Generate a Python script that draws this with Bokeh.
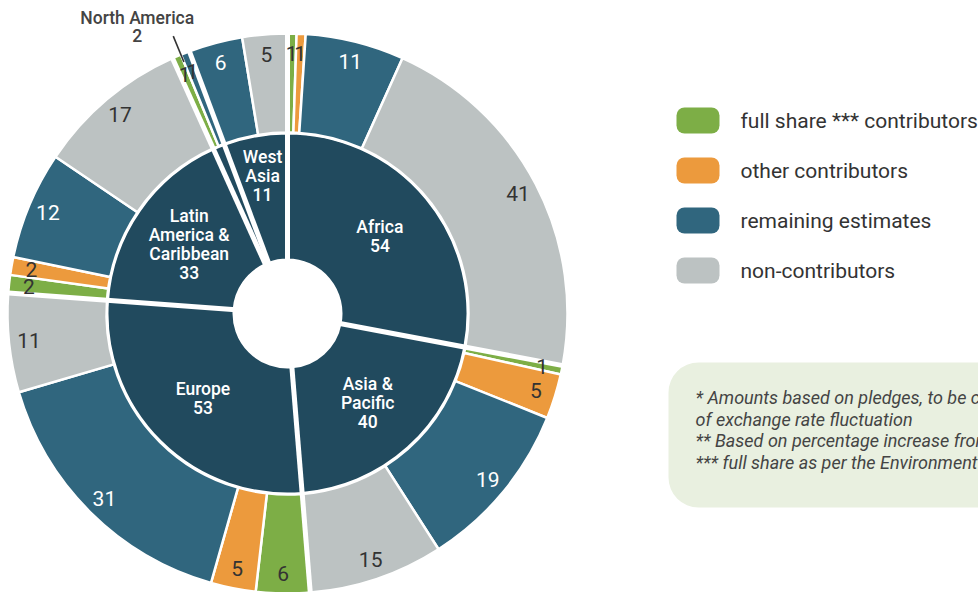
import numpy as np
from bokeh.plotting import figure
from bokeh.models import ColumnDataSource, Range1d
from bokeh.embed import file_html
from bokeh.resources import INLINE
from bokeh.core.properties import value

# ---------------- data ----------------
regions = ["Africa", "Asia &\nPacific", "Europe", "Latin\nAmerica &\nCaribbean", "North America", "West\nAsia"]
region_totals = [54, 40, 53, 33, 2, 11]

categories = ["full share *** contributors", "other contributors", "remaining estimates", "non-contributors"]
full_share = [1, 1, 6, 2, 1, 0]
other_contrib = [1, 5, 5, 2, 0, 0]
remaining = [11, 19, 31, 12, 1, 6]
non_contrib = [41, 15, 11, 17, 0, 5]

notes = [
    "* Amounts based on pledges, to be collected and subject to the impact",
    "of exchange rate fluctuation",
    "** Based on percentage increase from the previous year",
    "*** full share as per the Environment Fund voluntary indicative scale of contributions",
]

# ---------------- style ----------------
W, H = 978, 592
CX, CY = 287, H - 313
R_HOLE, R_IN, R_OUT0, R_OUT = 54, 180, 181, 280
NAVY = "#214a5e"
cat_colors = ["#7dae46", "#ec9a3d", "#30667e", "#bcc2c2"]
DARK = "#333333"
FONT = value("Roboto")
FONT_MED = value("Roboto Medium")

p = figure(width=W, height=H, x_range=Range1d(0, W), y_range=Range1d(0, H),
           x_axis_type=None, y_axis_type=None, toolbar_location=None,
           output_backend="svg", min_border=0, outline_line_color=None)
p.grid.visible = False
p.background_fill_color = "white"
p.border_fill_color = "white"

total = float(sum(region_totals))
deg = 360.0 / total


def bang(a):  # clockwise-from-top degrees -> bokeh radians
    return np.pi / 2 - np.radians(a)


def pt(a, r):
    t = bang(a)
    return CX + r * np.cos(t), CY + r * np.sin(t)


# inner ring
starts, ends = [], []
acc = 0.0
for t in region_totals:
    starts.append(acc)
    acc += t * deg
    ends.append(acc)

inner = ColumnDataSource(dict(s=[bang(a) for a in starts], e=[bang(a) for a in ends]))
p.annular_wedge(x=CX, y=CY, inner_radius=R_HOLE, outer_radius=R_IN, start_angle="s", end_angle="e",
                direction="clock", source=inner, fill_color=NAVY, line_color="white", line_width=2)

# outer ring
series = [full_share, other_contrib, remaining, non_contrib]
os_, oe_, oc_, lx, ly, lt, lc = [], [], [], [], [], [], []
for i in range(len(regions)):
    a = starts[i]
    for k, ser in enumerate(series):
        v = ser[i]
        if v == 0:
            continue
        a0, a1 = a, a + v * deg
        os_.append(bang(a0)); oe_.append(bang(a1)); oc_.append(cat_colors[k])
        x, y = pt((a0 + a1) / 2, 260)
        lx.append(x); ly.append(y); lt.append(str(v))
        lc.append("white" if (k == 2 and v > 1) else DARK)
        a = a1

outer = ColumnDataSource(dict(s=os_, e=oe_, c=oc_))
p.annular_wedge(x=CX, y=CY, inner_radius=R_OUT0, outer_radius=R_OUT, start_angle="s", end_angle="e",
                direction="clock", source=outer, fill_color="c", line_color="white", line_width=2.5)

# region separators
sx0, sy0, sx1, sy1 = [], [], [], []
for a in starts:
    x0, y0 = pt(a, R_HOLE - 2)
    x1, y1 = pt(a, R_OUT + 3)
    sx0.append(x0); sy0.append(y0); sx1.append(x1); sy1.append(y1)
p.segment(x0=sx0, y0=sy0, x1=sx1, y1=sy1, line_color="white", line_width=5)

# outer labels
p.text(x=lx, y=ly, text=lt, text_color=lc, text_font=FONT, text_font_size="21px",
       text_align="center", text_baseline="middle")

# inner labels
ix, iy, itx = [], [], []
na_idx = None
for i, name in enumerate(regions):
    if region_totals[i] < 5:
        na_idx = i
        continue
    r = 120 if region_totals[i] >= 20 else 140
    x, y = pt((starts[i] + ends[i]) / 2, r)
    ix.append(x); iy.append(y); itx.append(f"{name}\n{region_totals[i]}")
p.text(x=ix, y=iy, text=itx, text_color="white", text_font=FONT_MED, text_font_size="17.5px",
       text_align="center", text_baseline="middle", text_line_height=0.95)

# North America callout
if na_idx is not None:
    am = (starts[na_idx] + ends[na_idx]) / 2
    x0, y0 = pt(am, 272)
    x1, y1 = pt(am, 300)
    p.segment(x0=[x0], y0=[y0], x1=[x1], y1=[y1], line_color=DARK, line_width=1.6)
    p.text(x=[x1 - 36], y=[y1 + 9], text=[f"{regions[na_idx]}\n{region_totals[na_idx]}"],
           text_color="#444444", text_font=FONT_MED, text_font_size="17.5px",
           text_align="center", text_baseline="middle", text_line_height=0.92)

# legend
leg_y = [H - 120 - 50 * k for k in range(len(categories))]
p.quad(left=676, right=719, top=[y + 13 for y in leg_y], bottom=[y - 13 for y in leg_y],
       fill_color=cat_colors, line_color=None, border_radius=8)
p.text(x=740, y=leg_y, text=categories, text_color=DARK, text_font=FONT, text_font_size="21px",
       text_align="left", text_baseline="middle")

# notes box
p.quad(left=[668], right=[1030], top=[H - 362], bottom=[H - 507], fill_color="#e9f0e0",
       line_color=None, border_radius=30)
note_y = [H - 397 - 21.5 * k for k in range(len(notes))]
p.text(x=695, y=note_y, text=notes, text_color="#444444", text_font=FONT, text_font_style="italic",
       text_font_size="18px", text_align="left", text_baseline="middle")

open("out.html", "w").write(file_html(p, INLINE))
